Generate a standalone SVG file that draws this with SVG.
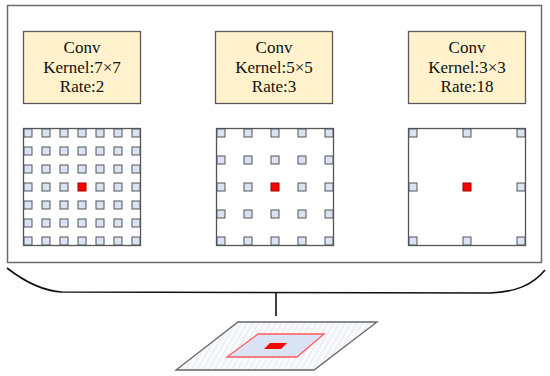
<svg xmlns="http://www.w3.org/2000/svg" xmlns:xlink="http://www.w3.org/1999/xlink" width="550" height="376" viewBox="0 0 550 376">
<style>
.panel{fill:#fff;stroke:#6b6b6b;stroke-width:1.5}
.box{fill:#FFF2CC;stroke:#595959;stroke-width:1.3}
.lbl{font-size:17px;fill:#111;text-anchor:middle}
.grid{fill:#fff;stroke:#555;stroke-width:1.3}
.sq{fill:#DAE3F3;stroke:#555;stroke-width:1}
.red{fill:#FF0000;stroke:#A00000;stroke-width:1}
.brace{fill:none;stroke:#111;stroke-width:1.6}
</style>
<defs>
<rect id="sq" width="8" height="8" class="sq"/>
<pattern id="hatch" patternUnits="userSpaceOnUse" width="5" height="5" patternTransform="rotate(30)">
<rect width="5" height="5" fill="#F7F9FC"/>
<line x1="0" y1="0" x2="0" y2="5" stroke="#D3DAE5" stroke-width="1"/>
</pattern>
</defs>
<rect class="panel" x="7.5" y="5.5" width="534" height="257"/>

<g font-family="'Liberation Serif', 'DejaVu Serif', serif">
<g id="conv1">
<rect class="box" x="23.5" y="31.5" width="117" height="72"/>
<text class="lbl" x="82" y="53">Conv</text>
<text class="lbl" x="82" y="73">Kernel:7×7</text>
<text class="lbl" x="82" y="92">Rate:2</text>
</g>
<g id="conv2">
<rect class="box" x="215.5" y="31.5" width="117" height="72"/>
<text class="lbl" x="274" y="53">Conv</text>
<text class="lbl" x="274" y="73">Kernel:5×5</text>
<text class="lbl" x="274" y="92">Rate:3</text>
</g>
<g id="conv3">
<rect class="box" x="408.5" y="31.5" width="117" height="72"/>
<text class="lbl" x="467" y="53">Conv</text>
<text class="lbl" x="467" y="73">Kernel:3×3</text>
<text class="lbl" x="467" y="92">Rate:18</text>
</g>
</g>

<g id="grid1">
<rect class="grid" x="23.5" y="128.5" width="117" height="117"/>
<use xlink:href="#sq" x="24" y="129"/><use xlink:href="#sq" x="42" y="129"/><use xlink:href="#sq" x="60" y="129"/><use xlink:href="#sq" x="78" y="129"/><use xlink:href="#sq" x="96" y="129"/><use xlink:href="#sq" x="114" y="129"/><use xlink:href="#sq" x="132" y="129"/>
<use xlink:href="#sq" x="24" y="147"/><use xlink:href="#sq" x="42" y="147"/><use xlink:href="#sq" x="60" y="147"/><use xlink:href="#sq" x="78" y="147"/><use xlink:href="#sq" x="96" y="147"/><use xlink:href="#sq" x="114" y="147"/><use xlink:href="#sq" x="132" y="147"/>
<use xlink:href="#sq" x="24" y="165"/><use xlink:href="#sq" x="42" y="165"/><use xlink:href="#sq" x="60" y="165"/><use xlink:href="#sq" x="78" y="165"/><use xlink:href="#sq" x="96" y="165"/><use xlink:href="#sq" x="114" y="165"/><use xlink:href="#sq" x="132" y="165"/>
<use xlink:href="#sq" x="24" y="183"/><use xlink:href="#sq" x="42" y="183"/><use xlink:href="#sq" x="60" y="183"/><rect class="red" x="78" y="183" width="8" height="8"/><use xlink:href="#sq" x="96" y="183"/><use xlink:href="#sq" x="114" y="183"/><use xlink:href="#sq" x="132" y="183"/>
<use xlink:href="#sq" x="24" y="201"/><use xlink:href="#sq" x="42" y="201"/><use xlink:href="#sq" x="60" y="201"/><use xlink:href="#sq" x="78" y="201"/><use xlink:href="#sq" x="96" y="201"/><use xlink:href="#sq" x="114" y="201"/><use xlink:href="#sq" x="132" y="201"/>
<use xlink:href="#sq" x="24" y="219"/><use xlink:href="#sq" x="42" y="219"/><use xlink:href="#sq" x="60" y="219"/><use xlink:href="#sq" x="78" y="219"/><use xlink:href="#sq" x="96" y="219"/><use xlink:href="#sq" x="114" y="219"/><use xlink:href="#sq" x="132" y="219"/>
<use xlink:href="#sq" x="24" y="237"/><use xlink:href="#sq" x="42" y="237"/><use xlink:href="#sq" x="60" y="237"/><use xlink:href="#sq" x="78" y="237"/><use xlink:href="#sq" x="96" y="237"/><use xlink:href="#sq" x="114" y="237"/><use xlink:href="#sq" x="132" y="237"/>
</g>

<g id="grid2">
<rect class="grid" x="216.5" y="128.5" width="117" height="117"/>
<use xlink:href="#sq" x="217" y="129"/><use xlink:href="#sq" x="244" y="129"/><use xlink:href="#sq" x="271" y="129"/><use xlink:href="#sq" x="298" y="129"/><use xlink:href="#sq" x="325" y="129"/>
<use xlink:href="#sq" x="217" y="156"/><use xlink:href="#sq" x="244" y="156"/><use xlink:href="#sq" x="271" y="156"/><use xlink:href="#sq" x="298" y="156"/><use xlink:href="#sq" x="325" y="156"/>
<use xlink:href="#sq" x="217" y="183"/><use xlink:href="#sq" x="244" y="183"/><rect class="red" x="271" y="183" width="8" height="8"/><use xlink:href="#sq" x="298" y="183"/><use xlink:href="#sq" x="325" y="183"/>
<use xlink:href="#sq" x="217" y="210"/><use xlink:href="#sq" x="244" y="210"/><use xlink:href="#sq" x="271" y="210"/><use xlink:href="#sq" x="298" y="210"/><use xlink:href="#sq" x="325" y="210"/>
<use xlink:href="#sq" x="217" y="237"/><use xlink:href="#sq" x="244" y="237"/><use xlink:href="#sq" x="271" y="237"/><use xlink:href="#sq" x="298" y="237"/><use xlink:href="#sq" x="325" y="237"/>
</g>

<g id="grid3">
<rect class="grid" x="408.5" y="128.5" width="117" height="117"/>
<use xlink:href="#sq" x="409" y="129"/><use xlink:href="#sq" x="463" y="129"/><use xlink:href="#sq" x="517" y="129"/>
<use xlink:href="#sq" x="409" y="183"/><rect class="red" x="463" y="183" width="8" height="8"/><use xlink:href="#sq" x="517" y="183"/>
<use xlink:href="#sq" x="409" y="237"/><use xlink:href="#sq" x="463" y="237"/><use xlink:href="#sq" x="517" y="237"/>
</g>

<g id="connectors">
<path class="brace" d="M7,268 C25,282 42,291 62,292 L490,293 C514,292 532,286 545,270"/>
<line class="brace" x1="276" y1="292" x2="276" y2="316"/>
</g>

<g id="feature-map">
<polygon points="238,322 377,322 314,370 176,370" fill="url(#hatch)" stroke="#666" stroke-width="1.3"/>
<polygon points="258,334 324,334 297,357 227,357" fill="#DAE3F3" stroke="#FF5B5B" stroke-width="1.3"/>
<polygon points="270,343 287,343 281,349 264,349" fill="#FF0000"/>
</g>
</svg>
